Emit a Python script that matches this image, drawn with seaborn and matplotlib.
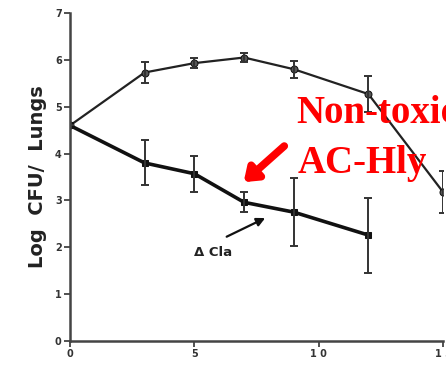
import pandas as pd
import numpy as np
import seaborn as sns
import matplotlib.pyplot as plt

days = [0, 3, 5, 7, 9, 12, 15]
wt_log = [4.6, 5.73, 5.93, 6.05, 5.8, 5.27, 3.18]
wt_err = [0.0, 0.22, 0.10, 0.10, 0.18, 0.38, 0.45]

cla_days = [0, 3, 5, 7, 9, 12]
cla_log = [4.6, 3.8, 3.57, 2.96, 2.75, 2.26]
cla_err = [0.0, 0.48, 0.38, 0.21, 0.73, 0.80]

y_ticks = [0, 1, 2, 3, 4, 5, 6, 7]
x_ticks = [0, 5, 10, 15]
x_tick_labels = ['0', '5', '1 0', '1 5']


def main():
    sns.set_style('white')
    plt.rcParams['font.family'] = ['DejaVu Sans']
    fig = plt.figure(figsize=(4.46, 3.66), dpi=100)
    ax = fig.add_axes([70 / 446, 25 / 366, 373 / 446, 328 / 366])

    wt = pd.DataFrame({'Day': days, 'Log': wt_log})
    cla = pd.DataFrame({'Day': cla_days, 'Log': cla_log})

    sns.lineplot(x='Day', y='Log', data=wt, ax=ax, color='#222222', lw=1.6,
                 marker='o', markersize=5, markerfacecolor='#555555',
                 markeredgecolor='#111111')
    sns.lineplot(x='Day', y='Log', data=cla, ax=ax, color='#111111', lw=2.6,
                 marker='s', markersize=5, markerfacecolor='#111111',
                 markeredgecolor='#111111')
    ax.errorbar(days, wt_log, yerr=wt_err, fmt='none', ecolor='#333333',
                elinewidth=1.4, capsize=3, capthick=1.4)
    ax.errorbar(cla_days, cla_log, yerr=cla_err, fmt='none', ecolor='#333333',
                elinewidth=1.4, capsize=3, capthick=1.4)

    ax.set_xlim(0, 15)
    ax.set_ylim(0, 7)
    ax.set_xticks(x_ticks)
    ax.set_xticklabels(x_tick_labels)
    ax.set_yticks(y_ticks)
    ax.tick_params(axis='both', direction='out', length=4, width=1.2,
                   labelsize=7, pad=2, colors='#333333')
    ax.tick_params(axis='both', left=True, bottom=True)
    for lab in ax.get_xticklabels() + ax.get_yticklabels():
        lab.set_fontweight('bold')
    sns.despine(ax=ax)
    for s in ['left', 'bottom']:
        ax.spines[s].set_linewidth(1.8)
        ax.spines[s].set_color('#444444')

    ax.set_xlabel('')
    ax.set_ylabel('Log  CFU/  Lungs', fontsize=14, fontweight='bold',
                  color='#222222', labelpad=6)

    # red annotation (runs off the right edge, as in the slide)
    fig.text(296 / 446, 1 - 123 / 366, 'Non-toxic', color='red',
             fontsize=28, fontweight='bold', family='Liberation Serif')
    fig.text(298 / 446, 1 - 173 / 366, 'AC-Hly', color='red',
             fontsize=28, fontweight='bold', family='Liberation Serif')
    ax.annotate('', xy=(6.9, 3.35), xytext=(8.7, 4.2),
                arrowprops=dict(arrowstyle='-|>,head_width=0.55,head_length=0.75',
                                color='red', lw=5.5))

    # delta Cla label
    ax.annotate('', xy=(7.95, 2.65), xytext=(6.2, 2.2),
                arrowprops=dict(arrowstyle='-|>,head_width=0.25,head_length=0.5',
                                color='#111111', lw=1.6))
    ax.text(5.0, 1.88, '\u0394 Cla', fontsize=9.5, fontweight='bold',
            color='#222222', va='center')

    fig.savefig('out.png', dpi=100)


if __name__ == "__main__":
    main()
